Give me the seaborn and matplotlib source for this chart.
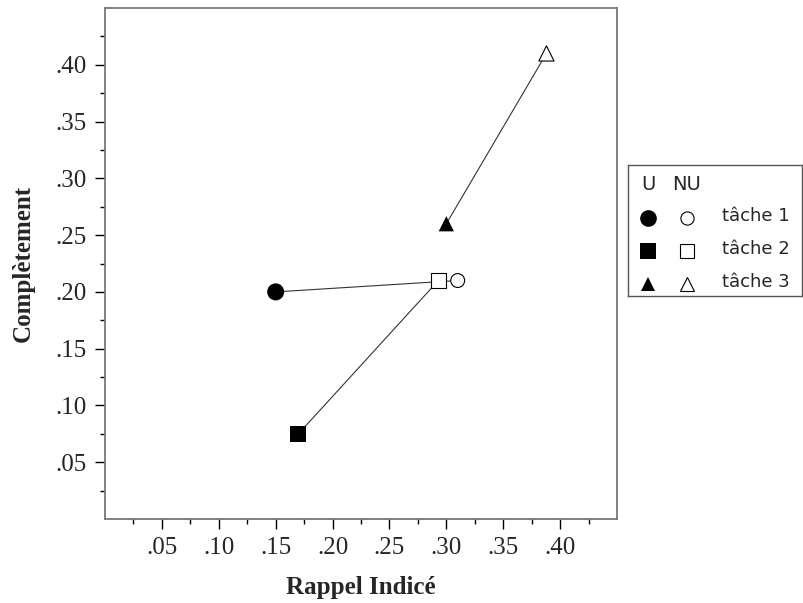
import pandas as pd
import matplotlib.pyplot as plt
import seaborn as sns
from matplotlib.lines import Line2D
from matplotlib.ticker import FixedLocator

# donnees
taches = ["tâche 1", "tâche 2", "tâche 3"]
u_x = [0.150, 0.170, 0.300]
u_y = [0.200, 0.075, 0.260]
nu_x = [0.310, 0.293, 0.388]
nu_y = [0.210, 0.210, 0.410]

graduations = [0.05, 0.10, 0.15, 0.20, 0.25, 0.30, 0.35, 0.40]
etiquettes = [".05", ".10", ".15", ".20", ".25", ".30", ".35", ".40"]
petites = [0.025, 0.075, 0.125, 0.175, 0.225, 0.275, 0.325, 0.375, 0.425]

marqueurs = {"tâche 1": "o", "tâche 2": "s", "tâche 3": "^"}
tailles_u = {"tâche 1": 150, "tâche 2": 135, "tâche 3": 120}
tailles_nu = {"tâche 1": 100, "tâche 2": 125, "tâche 3": 120}

df_u = pd.DataFrame({"tache": taches, "x": u_x, "y": u_y, "cond": "U"})
df_nu = pd.DataFrame({"tache": taches, "x": nu_x, "y": nu_y, "cond": "NU"})
df = pd.concat([df_u, df_nu], ignore_index=True)

sns.set_style("white")
plt.rcParams["font.family"] = ["Liberation Serif", "DejaVu Serif"]

fig = plt.figure(figsize=(8.04, 6.03), dpi=100)
ax = fig.add_axes([105 / 804, 1 - 519 / 603, 512 / 804, 511 / 603])

sns.lineplot(data=df, x="x", y="y", units="tache", estimator=None, sort=False,
             color="#333333", linewidth=0.8, ax=ax, legend=False, zorder=1)
sns.scatterplot(data=df_u, x="x", y="y", style="tache", markers=marqueurs,
                size="tache", sizes=tailles_u, color="black", edgecolor="black",
                linewidth=0, ax=ax, legend=False, zorder=3)
sns.scatterplot(data=df_nu, x="x", y="y", style="tache", markers=marqueurs,
                size="tache", sizes=tailles_nu, facecolor="white", edgecolor="black",
                linewidth=0.8, ax=ax, legend=False, zorder=3)

ax.set_xlim(0, 0.45)
ax.set_ylim(0, 0.45)
ax.set_xticks(graduations, etiquettes)
ax.set_yticks(graduations, etiquettes)
ax.xaxis.set_minor_locator(FixedLocator(petites))
ax.yaxis.set_minor_locator(FixedLocator(petites))
ax.tick_params(which="major", direction="out", length=7, width=1, color="black",
               labelsize=18, pad=6, left=True, bottom=True)
ax.tick_params(which="minor", direction="out", length=3.5, width=1, color="black",
               left=True, bottom=True)

for s in ax.spines.values():
    s.set_color("#777777")
    s.set_linewidth(1.3)

ax.set_xlabel("Rappel Indicé", fontsize=18, fontweight="bold", labelpad=12)
ax.set_ylabel("Complètement", fontsize=18, fontweight="bold", labelpad=15)

# legende dessinee a la main
lg = fig.add_axes([628 / 804, 1 - 296 / 603, 174 / 804, 131 / 603])
lg.set_xlim(0, 174)
lg.set_ylim(131, 0)
lg.set_xticks([])
lg.set_yticks([])
for s in lg.spines.values():
    s.set_color("#555555")
    s.set_linewidth(1.0)
police = ["DejaVu Sans"]
lg.text(20, 20, "U", ha="center", va="center", fontsize=14, family=police)
lg.text(44, 20, "NU", ha="left", va="center", fontsize=14, family=police)
ms_u = {"tâche 1": 12, "tâche 2": 11, "tâche 3": 10}
ms_nu = {"tâche 1": 9.5, "tâche 2": 9.5, "tâche 3": 10}
for i, t in enumerate(taches):
    yy = 53 + 33 * i
    lg.add_line(Line2D([20], [yy], marker=marqueurs[t], markersize=ms_u[t],
                       color="black", markeredgewidth=0, linestyle="none"))
    lg.add_line(Line2D([59], [yy], marker=marqueurs[t], markersize=ms_nu[t],
                       markerfacecolor="white", markeredgecolor="black",
                       markeredgewidth=0.8, linestyle="none"))
    lg.text(94, yy - 2, t, ha="left", va="center", fontsize=13, family=police)

fig.savefig("out.png", dpi=100)
